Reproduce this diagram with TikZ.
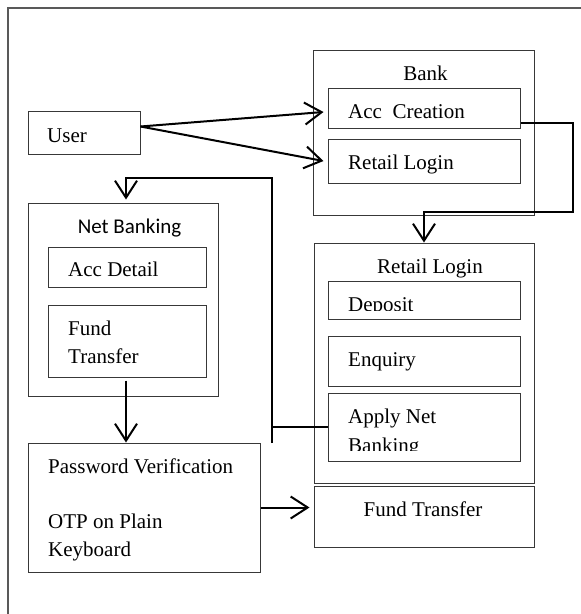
\documentclass[tikz,border=0pt]{standalone}
\usepackage{fontspec}
\setmainfont{Liberation Serif}
\newfontfamily\calibrifont{Carlito}
\usetikzlibrary{arrows.meta,calc}
\begin{document}
\begin{tikzpicture}[x=1pt,y=-1pt,
  box/.style={draw=black!78, line width=1pt, inner sep=0pt, fill=none},
  lbl/.style={inner sep=0pt, font=\fontsize{21}{28}\selectfont},
  conn/.style={draw=black, line width=2pt},
  arr/.style={conn, -{Straight Barb[length=17pt,width=22pt]}},
  frame/.style={draw=black!65, line width=1.5pt}
]
\useasboundingbox (0,0) rectangle (581,614);

% outer frame (only top and left edges fall inside the page)
\draw[frame] (8,614) -- (8,8) -- (581,8);

% boxes
\node[box, minimum width=112pt, minimum height=43pt]  (user)   at (84,132.5)  {};
\node[box, minimum width=221pt, minimum height=165pt] (bank)   at (423.5,132.5) {};
\node[box, minimum width=192pt, minimum height=40pt]  (acc)    at (424,108)   {};
\node[box, minimum width=192pt, minimum height=44pt]  (rlog)   at (424,161)   {};
\node[box, minimum width=190pt, minimum height=193pt] (netb)   at (123,299.5) {};
\node[box, minimum width=158pt, minimum height=40pt]  (accd)   at (127,267)   {};
\node[box, minimum width=158pt, minimum height=72pt]  (fundnb) at (127,341)   {};
\node[box, minimum width=220pt, minimum height=240pt] (retail) at (424,363)   {};
\node[box, minimum width=192pt, minimum height=38pt]  (depo)   at (424,300)   {};
\node[box, minimum width=192pt, minimum height=50pt]  (enq)    at (424,361)   {};
\node[box, minimum width=192pt, minimum height=68pt]  (apply)  at (424,427)   {};
\node[box, minimum width=220pt, minimum height=61pt]  (fund)   at (424,516.5) {};
\node[box, minimum width=232pt, minimum height=129pt] (pass)   at (144,507.5) {};

% labels
\node[lbl, anchor=base west] (user-t)  at (47,142)  {User};
\node[lbl, anchor=base]      (bank-t)  at (425.5,80) {Bank};
\node[lbl, anchor=base west] (acc-t)   at (348,118) {Acc\ \ Creation};
\node[lbl, anchor=base west] (rlog-t)  at (348,169) {Retail Login};
\node[lbl, anchor=base, font=\calibrifont\fontsize{21}{28}\selectfont] (netb-t) at (129.5,233) {Net Banking};
\node[lbl, anchor=base west] (accd-t)  at (68,276)  {Acc Detail};
\node[lbl, anchor=base west] (fnb-t1)  at (68,335)  {Fund};
\node[lbl, anchor=base west] (fnb-t2)  at (68,363)  {Transfer};
\node[lbl, anchor=base]      (ret-t)   at (430,273) {Retail Login};
\begin{scope}
  \clip (328,281) rectangle (520,310.5);
  \node[lbl, anchor=base west] (depo-t) at (348,311) {Deposit};
\end{scope}
\node[lbl, anchor=base west] (enq-t)   at (348,366) {Enquiry};
\node[lbl, anchor=base west] (app-t1)  at (348,423) {Apply Net};
\begin{scope}
  \clip (328,430) rectangle (520,450);
  \node[lbl, anchor=base west] (app-t2) at (348,452) {Banking};
\end{scope}
\node[lbl, anchor=base]      (fund-t)  at (423,516) {Fund Transfer};
\node[lbl, anchor=base west] (pass-t1) at (48,473)  {Password Verification};
\node[lbl, anchor=base west] (pass-t2) at (48,528)  {OTP on Plain};
\node[lbl, anchor=base west] (pass-t3) at (48,556)  {Keyboard};

% connectors
\coordinate (ustart) at ([yshift=6pt]user.east);
\draw[arr] (ustart) -- ([xshift=-4pt,yshift=-4pt]acc.west);
\draw[arr] (ustart) -- ([xshift=-4pt]rlog.west);

\coordinate (ac1) at (573,123);
\coordinate (ac2) at (573,212);
\draw[arr] ([yshift=-15pt]acc.east) -- (ac1) -- (ac2) -- (ac2 -| retail.north) -- (retail.north);

\coordinate (nb0) at (272,443);
\coordinate (nb1) at (272,427);
\coordinate (nb2) at (272,178);
\coordinate (nb3) at (126,178);
\draw[conn] (apply.west) -- (nb1);
\draw[arr, shorten >=3pt] (nb0) -- (nb2) -- (nb3) -- (nb3 |- netb.north);

\draw[arr, shorten <=3pt] ([xshift=-1pt]fundnb.south) -- ([xshift=-1pt]fundnb.south |- pass.north);
\draw[arr, shorten >=4pt] (pass.east) -- (pass.east -| fund.west);
\end{tikzpicture}
\end{document}
